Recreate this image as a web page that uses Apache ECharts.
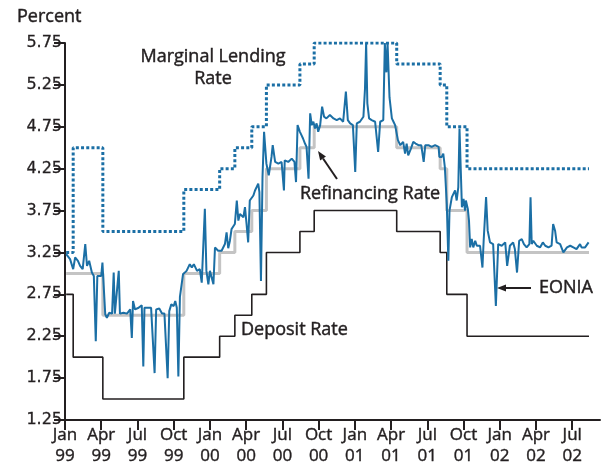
<!DOCTYPE html>
<html><head><meta charset="utf-8">
<script src="https://cdn.jsdelivr.net/npm/echarts@6/dist/echarts.min.js"></script>
<style>html,body{margin:0;padding:0;background:#fff}#c{width:606px;height:468px}</style>
</head><body><div id="c"></div>
<script>
// ---- data ----
const xTickMonths = [0,3,6,9,12,15,18,21,24,27,30,33,36,39,42];
const xTickLabels = ['Jan\n99','Apr\n99','Jul\n99','Oct\n99','Jan\n00','Apr\n00','Jul\n00','Oct\n00','Jan\n01','Apr\n01','Jul\n01','Oct\n01','Jan\n02','Apr\n02','Jul\n02'];
const yTickValues = [1.25,1.75,2.25,2.75,3.25,3.75,4.25,4.75,5.25,5.75];

const rateChangeDates = ['1999-01-04','1999-01-22','1999-04-05','1999-10-27','2000-01-26','2000-03-03','2000-04-15','2000-05-22','2000-08-15','2000-09-20','2001-04-15','2001-08-03','2001-08-20','2001-10-10'];
const depositRate   = [2.75,2.00,1.50,2.00,2.25,2.50,2.75,3.25,3.50,3.75,3.50,3.25,2.75,2.25];
const marginalRate  = [3.25,4.50,3.50,4.00,4.25,4.50,4.75,5.25,5.50,5.75,5.50,5.25,4.75,4.25];
const refiRate      = [3.00,3.00,2.50,3.00,3.25,3.50,3.75,4.25,4.50,4.75,4.50,4.25,3.75,3.25];
const lastDate = '2002-08-13';

const eoniaDates = [
'1999-01-04','1999-01-08','1999-01-14','1999-01-22','1999-01-27','1999-02-03','1999-02-08','1999-02-14','1999-02-20','1999-02-24',
'1999-03-01','1999-03-08','1999-03-13','1999-03-18','1999-03-22','1999-03-27','1999-04-01','1999-04-04','1999-04-08','1999-04-11',
'1999-04-15','1999-04-21','1999-04-28','1999-05-02','1999-05-05','1999-05-10','1999-05-15','1999-05-18','1999-05-27','1999-06-05',
'1999-06-13','1999-06-17','1999-06-20','1999-06-25','1999-07-04','1999-07-12','1999-07-16','1999-07-19','1999-07-28','1999-08-05',
'1999-08-14','1999-08-18','1999-08-26','1999-09-02','1999-09-08','1999-09-16','1999-09-20','1999-09-25','1999-10-01','1999-10-05',
'1999-10-09','1999-10-13','1999-10-17','1999-10-25','1999-11-03','1999-11-11','1999-11-16','1999-11-21','1999-11-29','1999-12-06',
'1999-12-11','1999-12-19','1999-12-23','1999-12-28',
'2000-01-01','2000-01-05','2000-01-10','2000-01-14','2000-01-22','2000-01-31','2000-02-08','2000-02-12','2000-02-16','2000-02-20',
'2000-02-24','2000-02-28','2000-03-03','2000-03-08','2000-03-12','2000-03-16','2000-03-25','2000-03-29','2000-04-02','2000-04-06',
'2000-04-10','2000-04-19','2000-04-23','2000-05-01','2000-05-04','2000-05-08','2000-05-12','2000-05-16','2000-05-22','2000-05-28',
'2000-06-04','2000-06-07','2000-06-13','2000-06-21','2000-06-29','2000-07-05','2000-07-07','2000-07-16','2000-07-25','2000-08-01',
'2000-08-05','2000-08-09','2000-08-15','2000-08-19','2000-08-23','2000-08-28','2000-09-01','2000-09-06','2000-09-10','2000-09-14',
'2000-09-18','2000-09-22','2000-09-26','2000-09-30','2000-10-05','2000-10-10','2000-10-15','2000-10-21','2000-10-30','2000-11-08',
'2000-11-16','2000-11-24','2000-12-02','2000-12-09','2000-12-14','2000-12-20','2000-12-27',
'2001-01-02','2001-01-06','2001-01-14','2001-01-23','2001-01-27','2001-01-30','2001-02-02','2001-02-06','2001-02-12','2001-02-20',
'2001-02-27','2001-03-04','2001-03-12','2001-03-16','2001-03-20','2001-03-23','2001-03-28','2001-04-03','2001-04-07','2001-04-11',
'2001-04-18','2001-04-24','2001-05-01','2001-05-06','2001-05-10','2001-05-14','2001-05-21','2001-05-27','2001-06-02','2001-06-09',
'2001-06-16','2001-06-22','2001-06-26','2001-07-04','2001-07-12','2001-07-21','2001-07-30','2001-08-01','2001-08-07','2001-08-11',
'2001-08-15','2001-08-20','2001-08-24','2001-08-27','2001-09-02','2001-09-06','2001-09-10','2001-09-14','2001-09-18','2001-09-21',
'2001-09-23','2001-09-27','2001-10-01','2001-10-05','2001-10-07','2001-10-12','2001-10-15','2001-10-18','2001-10-22','2001-10-26',
'2001-10-31','2001-11-04','2001-11-08','2001-11-12','2001-11-18','2001-11-21','2001-11-27','2001-12-01','2001-12-07','2001-12-15',
'2001-12-22','2001-12-28',
'2002-01-06','2002-01-15','2002-01-20','2002-01-27','2002-02-04','2002-02-08','2002-02-13','2002-02-18','2002-02-24','2002-03-01',
'2002-03-08','2002-03-15','2002-03-18','2002-03-21','2002-03-25','2002-04-03','2002-04-11','2002-04-18','2002-04-24','2002-05-02',
'2002-05-10','2002-05-14','2002-05-19','2002-05-23','2002-06-01','2002-06-09','2002-06-18','2002-06-26','2002-07-04','2002-07-12',
'2002-07-21','2002-07-25','2002-08-03','2002-08-12'
];
const eoniaValues = [
3.23,3.21,3.17,3.05,3.19,3.15,3.09,3.05,3.35,3.09,
3.15,3.01,2.97,2.19,2.97,2.99,2.97,3.13,2.77,2.51,
2.47,2.53,2.52,3.01,2.52,2.53,3.03,2.52,2.53,2.52,
2.57,2.23,2.67,2.57,2.59,2.62,1.89,2.59,2.59,2.59,
1.81,2.57,2.58,2.52,2.52,1.75,2.55,2.63,2.61,2.67,
2.59,1.77,2.72,2.99,3.03,3.11,3.07,3.11,3.03,3.05,
2.89,3.77,3.03,2.87,
3.03,3.05,2.87,3.31,3.27,3.27,3.35,3.49,3.30,3.39,
3.53,3.55,3.59,3.87,3.63,3.71,3.67,3.79,3.59,3.37,
3.87,3.93,3.99,4.07,3.97,2.91,4.15,4.69,4.31,4.17,
4.39,4.53,4.33,4.31,4.33,3.99,4.35,4.33,4.37,4.33,
4.09,4.77,4.69,4.65,4.61,4.55,4.51,4.13,4.91,4.77,
4.81,4.73,4.79,4.69,4.77,4.99,4.87,4.85,4.89,4.85,
4.83,4.85,4.81,5.17,4.83,4.79,4.77,
4.21,4.79,4.81,4.87,5.20,5.75,5.03,4.85,4.83,4.81,
4.45,4.81,4.83,5.75,5.40,5.75,5.10,4.85,4.81,4.77,
4.59,4.53,4.57,4.43,4.55,4.41,4.49,4.57,4.55,4.53,
4.53,4.33,4.53,4.53,4.51,4.53,4.51,4.39,4.39,4.43,
4.27,3.83,3.15,3.75,3.91,3.89,3.99,3.87,4.03,4.73,
4.73,3.79,3.89,3.75,3.87,3.77,3.63,3.31,3.41,3.31,
3.39,3.33,3.31,3.33,3.07,3.39,3.91,3.51,3.37,3.35,
2.61,3.35,
3.33,3.37,3.09,3.33,3.37,3.29,3.01,3.39,3.41,3.35,
3.31,3.35,3.91,3.35,3.39,3.33,3.31,3.37,3.33,3.31,
3.33,3.59,3.51,3.37,3.35,3.25,3.31,3.33,3.31,3.29,
3.35,3.31,3.31,3.37
];

// ---- helpers ----
function toMonths(s){
  const p = s.split('-').map(Number);
  const dim = new Date(p[0], p[1], 0).getDate();
  return (p[0]-1999)*12 + (p[1]-1) + (p[2]-1)/dim;
}
function stepData(vals){
  const d = rateChangeDates.map((s,i)=>[toMonths(s), vals[i]]);
  d.push([toMonths(lastDate), vals[vals.length-1]]);
  return d;
}
const eoniaData = eoniaDates.map((s,i)=>[toMonths(s), eoniaValues[i]]);

const FONT = '"Open Sans", "DejaVu Sans", sans-serif';
const INK = '#231f20';
const BLUE = '#1b6fa5';

function arrow(tail, tip, len, half){
  const dx = tip[0]-tail[0], dy = tip[1]-tail[1];
  const L = Math.hypot(dx,dy), ux = dx/L, uy = dy/L;
  const bx = tip[0]-ux*len, by = tip[1]-uy*len;
  return [
    {type:'line', shape:{x1:tail[0],y1:tail[1],x2:bx,y2:by}, style:{stroke:INK,lineWidth:2}},
    {type:'polygon', shape:{points:[tip,[bx-uy*half,by+ux*half],[bx+uy*half,by-ux*half]]}, style:{fill:INK}}
  ];
}
function label(x, y, text, extra){
  return {type:'text', x:x, y:y, style:Object.assign({text:text, font:'18px '+FONT, fill:INK,
    stroke:INK, lineWidth:0.45, verticalAlign:'middle'}, extra||{})};
}

const chart = echarts.init(document.getElementById('c'), null, {renderer:'canvas'});
chart.setOption({
  animation:false,
  grid:{left:65,right:6,top:43,bottom:48},
  xAxis:{
    type:'value', min:0, max:44.3,
    axisLine:{show:true, onZero:false, lineStyle:{color:INK,width:2}},
    axisTick:{show:true, customValues:xTickMonths, length:10, lineStyle:{color:INK,width:2}},
    axisLabel:{customValues:xTickMonths, formatter:(v)=>xTickLabels[Math.round(v/3)],
      fontFamily:FONT, fontSize:17, lineHeight:21, color:INK, margin:5,
      textBorderColor:INK, textBorderWidth:0.4},
    splitLine:{show:false}
  },
  yAxis:{
    type:'value', min:1.25, max:5.75,
    axisLine:{show:true, lineStyle:{color:INK,width:2}},
    axisTick:{show:true, customValues:yTickValues, length:11, lineStyle:{color:INK,width:2}},
    axisLabel:{customValues:yTickValues, formatter:(v)=>v.toFixed(2),
      fontFamily:'"DejaVu Sans", sans-serif', fontSize:16, color:INK, margin:3,
      textBorderColor:INK, textBorderWidth:0.3},
    splitLine:{show:false}
  },
  series:[
    {name:'Deposit Rate', type:'line', step:'end', data:stepData(depositRate), showSymbol:false,
      lineStyle:{color:INK,width:1.6}},
    {name:'Marginal Lending Rate', type:'line', step:'end', data:stepData(marginalRate), showSymbol:false,
      lineStyle:{color:BLUE,width:3,type:[3,2.2],cap:'butt'}},
    {name:'Refinancing Rate', type:'line', step:'end', data:stepData(refiRate), showSymbol:false,
      lineStyle:{color:'#c4c4c4',width:3}},
    {name:'EONIA', type:'line', data:eoniaData, showSymbol:false,
      lineStyle:{color:BLUE,width:2}}
  ],
  graphic:[
    label(17, 17, 'Percent'),
    label(213, 68, 'Marginal Lending\nRate', {align:'center', lineHeight:22}),
    label(300, 194, 'Refinancing Rate'),
    label(241, 330, 'Deposit Rate'),
    label(539, 288, 'EONIA'),
    ...arrow([337,179],[318,151],9,3.5),
    ...arrow([531,288],[497,288],9,3.5)
  ]
});
</script></body></html>
